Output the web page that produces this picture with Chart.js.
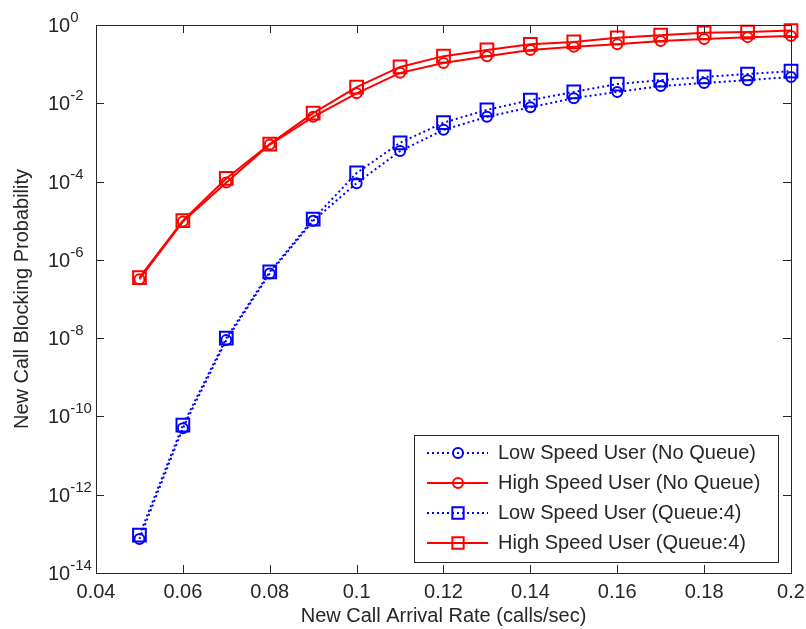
<!DOCTYPE html>
<html>
<head>
<meta charset="utf-8">
<script src="https://cdn.jsdelivr.net/npm/chart.js@4.4.1/dist/chart.umd.min.js"></script>
<style>
  html, body { margin: 0; padding: 0; background: #fff; }
  #wrap { width: 806px; height: 629px; }
</style>
</head>
<body>
<div id="wrap"><canvas id="chart"></canvas></div>
<script>
// new call arrival rate (calls/sec)
const arrivalRate = [0.05, 0.06, 0.07, 0.08, 0.09, 0.10, 0.11, 0.12, 0.13, 0.14, 0.15, 0.16, 0.17, 0.18, 0.19, 0.20];

// blocking probabilities
const lowNoQueue  = [7.4e-14, 5.0e-11, 8.9e-9, 4.5e-7, 1.0e-5, 9.1e-5, 6.0e-4, 2.1e-3, 4.5e-3, 7.9e-3, 1.35e-2, 1.95e-2, 2.75e-2, 3.3e-2, 3.9e-2, 4.7e-2];
const highNoQueue = [3.2e-7, 9.5e-6, 9.5e-5, 8.8e-4, 4.5e-3, 1.8e-2, 6.0e-2, 0.107, 0.16, 0.23, 0.28, 0.32, 0.39, 0.44, 0.49, 0.52];
const lowQueue4   = [9.3e-14, 6.0e-11, 1.0e-8, 4.9e-7, 1.1e-5, 1.66e-4, 9.8e-4, 3.2e-3, 6.8e-3, 1.2e-2, 1.95e-2, 3.1e-2, 3.9e-2, 4.7e-2, 5.6e-2, 6.6e-2];
const highQueue4  = [3.5e-7, 1.0e-5, 1.2e-4, 9.1e-4, 5.6e-3, 2.6e-2, 8.5e-2, 0.16, 0.23, 0.32, 0.37, 0.47, 0.55, 0.63, 0.66, 0.72];

const seriesLabels = [
    'Low Speed User (No Queue)',
    'High Speed User (No Queue)',
    'Low Speed User (Queue:4)',
    'High Speed User (Queue:4)'
];

const xTicks = [0.04, 0.06, 0.08, 0.1, 0.12, 0.14, 0.16, 0.18, 0.2];
const xTickLabels = ['0.04', '0.06', '0.08', '0.1', '0.12', '0.14', '0.16', '0.18', '0.2'];
const yTickExponents = [0, -2, -4, -6, -8, -10, -12, -14];

const xTitle = 'New Call Arrival Rate (calls/sec)';
const yTitle = 'New Call Blocking Probability';

const FONT = '"Liberation Sans", Arial, sans-serif';
const INK = '#262626';
const BLUE = '#0000ff';
const RED = '#ff0000';

const toPoints = (ys) => arrivalRate.map((x, i) => ({ x: x, y: ys[i] }));

const makeSet = (label, ys, color, dotted, style) => ({
    label: label,
    data: toPoints(ys),
    borderColor: color,
    backgroundColor: 'rgba(0,0,0,0)',
    borderWidth: 2,
    borderDash: dotted ? [2, 3] : [],
    pointStyle: style,
    pointRadius: style === 'rect' ? 9 : 5,
    pointBorderWidth: 2,
    pointBorderColor: color,
    pointBackgroundColor: 'rgba(0,0,0,0)',
    tension: 0,
    clip: false
});

// box, ticks, tick labels, axis titles and the legend, matlab style
const axesFrame = {
    id: 'axesFrame',
    afterDatasetsDraw(chart) {
        const { ctx, chartArea: a, scales: { x, y } } = chart;
        ctx.save();
        ctx.strokeStyle = INK;
        ctx.fillStyle = INK;
        ctx.lineWidth = 1;
        ctx.setLineDash([]);
        ctx.strokeRect(a.left + 0.5, a.top + 0.5, a.right - a.left, a.bottom - a.top);

        const tl = 8;
        ctx.beginPath();
        xTicks.forEach(v => {
            const px = Math.round(x.getPixelForValue(v)) + 0.5;
            ctx.moveTo(px, a.bottom); ctx.lineTo(px, a.bottom - tl);
            ctx.moveTo(px, a.top); ctx.lineTo(px, a.top + tl);
        });
        yTickExponents.forEach(e => {
            const py = Math.round(y.getPixelForValue(Math.pow(10, e))) + 0.5;
            ctx.moveTo(a.left, py); ctx.lineTo(a.left + tl, py);
            ctx.moveTo(a.right, py); ctx.lineTo(a.right - tl, py);
        });
        ctx.stroke();

        // x tick labels
        ctx.font = '20px ' + FONT;
        ctx.textAlign = 'center';
        ctx.textBaseline = 'middle';
        xTicks.forEach((v, i) => {
            ctx.fillText(xTickLabels[i], x.getPixelForValue(v), a.bottom + 19);
        });

        // y tick labels: 10 with a raised exponent
        yTickExponents.forEach(e => {
            const py = y.getPixelForValue(Math.pow(10, e));
            ctx.textAlign = 'left';
            ctx.textBaseline = 'alphabetic';
            ctx.font = '20px ' + FONT;
            ctx.fillText('10', 48, py + 7);
            const w = ctx.measureText('10').width;
            ctx.font = '15px ' + FONT;
            ctx.fillText(String(e), 48 + w, py - 3);
        });

        // axis titles
        ctx.font = '20px ' + FONT;
        ctx.textAlign = 'center';
        ctx.textBaseline = 'middle';
        ctx.fillText(xTitle, (a.left + a.right) / 2, a.bottom + 43);
        ctx.save();
        ctx.translate(22, (a.top + a.bottom) / 2);
        ctx.rotate(-Math.PI / 2);
        ctx.fillText(yTitle, 0, 0);
        ctx.restore();

        // legend box
        const lw = 364, lh = 127;
        const lx = a.right - 13 - lw, ly = a.bottom - 11 - lh;
        ctx.fillStyle = '#fff';
        ctx.fillRect(lx, ly, lw, lh);
        ctx.strokeStyle = INK;
        ctx.strokeRect(lx + 0.5, ly + 0.5, lw, lh);

        chart.data.datasets.forEach((ds, i) => {
            const ry = ly + 18 + i * 30;
            ctx.strokeStyle = ds.borderColor;
            ctx.lineWidth = ds.borderWidth;
            ctx.setLineDash(ds.borderDash);
            ctx.beginPath();
            ctx.moveTo(lx + 13, ry);
            ctx.lineTo(lx + 74, ry);
            ctx.stroke();
            ctx.setLineDash([]);
            ctx.lineWidth = ds.pointBorderWidth;
            ctx.fillStyle = ds.pointBackgroundColor;
            Chart.helpers.drawPoint(ctx, {
                pointStyle: ds.pointStyle,
                radius: ds.pointStyle === 'rect' ? 8 : 5,
                borderWidth: ds.pointBorderWidth,
                rotation: 0
            }, lx + 44, ry);
            ctx.fillStyle = INK;
            ctx.font = '20px ' + FONT;
            ctx.textAlign = 'left';
            ctx.textBaseline = 'middle';
            ctx.fillText(ds.label, lx + 84, ry);
        });
        ctx.restore();
    }
};

new Chart(document.getElementById('chart'), {
    type: 'line',
    data: {
        datasets: [
            makeSet(seriesLabels[0], lowNoQueue, BLUE, true, 'circle'),
            makeSet(seriesLabels[1], highNoQueue, RED, false, 'circle'),
            makeSet(seriesLabels[2], lowQueue4, BLUE, true, 'rect'),
            makeSet(seriesLabels[3], highQueue4, RED, false, 'rect')
        ]
    },
    options: {
        responsive: true,
        maintainAspectRatio: false,
        animation: false,
        layout: { padding: { left: 96, right: 15, top: 25, bottom: 56 } },
        plugins: {
            legend: { display: false },
            tooltip: { enabled: false }
        },
        scales: {
            x: { type: 'linear', min: 0.04, max: 0.2, display: false },
            y: { type: 'logarithmic', min: 1e-14, max: 1, display: false }
        }
    },
    plugins: [axesFrame]
});
</script>
</body>
</html>
